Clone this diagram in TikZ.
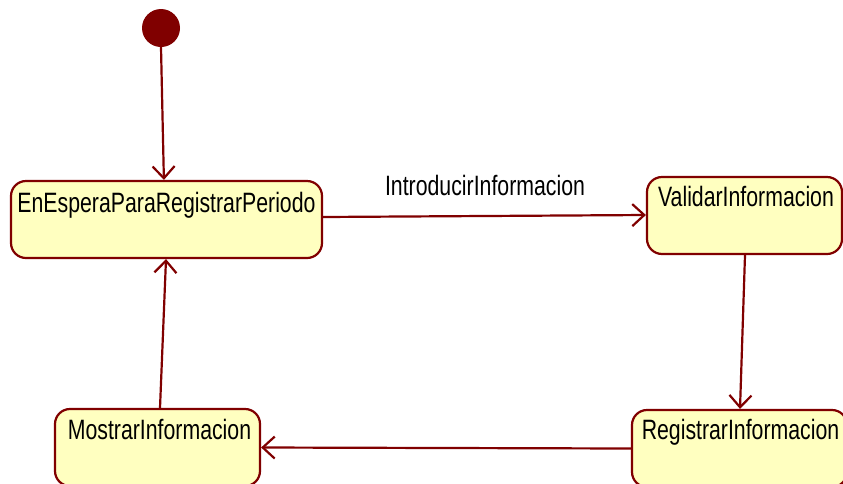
\documentclass[tikz,border=0pt]{standalone}
\usepackage{fontspec}
\setmainfont{Liberation Sans}[FakeStretch=0.76]
\usetikzlibrary{arrows.meta,calc}
\definecolor{bord}{RGB}{128,0,0}
\definecolor{fillc}{RGB}{255,255,192}
\begin{document}
\begin{tikzpicture}[x=1pt,y=-1pt,
  state/.style={draw=bord,fill=fillc,line width=2.2pt,rounded corners=15pt,inner sep=0pt},
  lbl/.style={font=\fontsize{28}{28}\selectfont,inner sep=0pt,anchor=base},
  tr/.style={draw=bord,line width=2.2pt,-{Straight Barb[length=12pt,width=22pt,line width=2.2pt]}}]
\useasboundingbox (0,0) rectangle (843,483);
\clip (0,0) rectangle (843,483);
\node[circle,fill=bord,minimum size=38pt,inner sep=0pt] (init) at (161,28) {};
\node[state,minimum width=311pt,minimum height=77pt] (s1) at (166.5,219.5) {};
\node[state,minimum width=195pt,minimum height=77pt] (s2) at (744.5,215.5) {};
\node[state,minimum width=215pt,minimum height=77pt] (s3) at (739.5,448.5) {};
\node[state,minimum width=205pt,minimum height=77pt] (s4) at (157.5,447.5) {};
\node[lbl] (t1) at ($(s1.north)+(0,32.5)$) {EnEsperaParaRegistrarPeriodo};
\node[lbl] (t2) at ($(s2.north)+(1.5,30.5)$) {ValidarInformacion};
\node[lbl] (t3) at ($(s3.north)+(1,30.5)$) {RegistrarInformacion};
\node[lbl] (t4) at ($(s4.north)+(2,31.5)$) {MostrarInformacion};
\draw[tr] (init.south) -- ($(s1.north west)+(154,0)$);
\draw[tr] ($(s1.east)+(0,-2.5)$) -- ($(s2.west)+(0,-0.5)$);
\node[lbl] (lab) at (485,195) {IntroducirInformacion};
\draw[tr] ($(s2.south)+(0.5,0)$) -- ($(s3.north)+(0.5,0)$);
\draw[tr] (s3.west) -- (s4.east);
\draw[tr] ($(s4.north)+(2.5,0)$) -- ($(s1.south)+(-0.5,0)$);
\end{tikzpicture}
\end{document}
